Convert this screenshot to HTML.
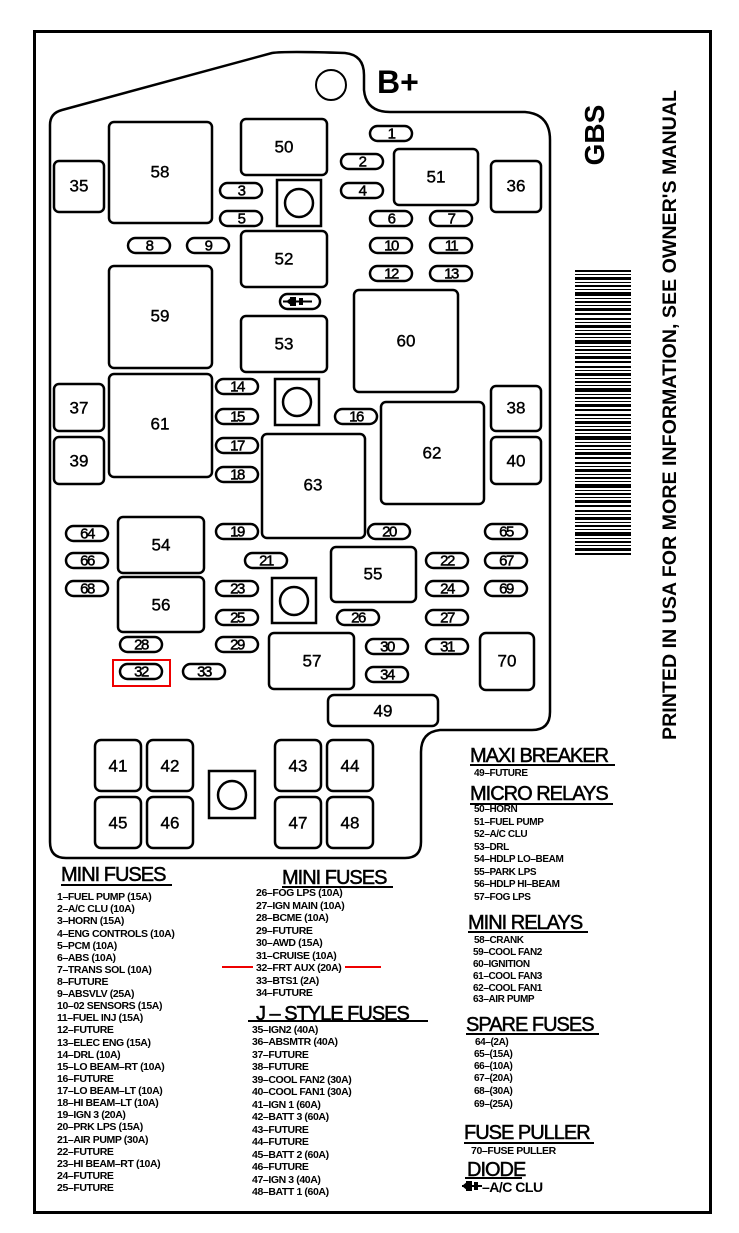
<!DOCTYPE html>
<html><head><meta charset="utf-8"><style>
html,body{margin:0;padding:0;background:#fff;}
svg{display:block;}
text{font-family:"Liberation Sans",sans-serif;fill:#000;}
.r{font-size:17px;text-anchor:middle;dominant-baseline:central;stroke:#000;stroke-width:0.4px;}
.f{font-size:15px;text-anchor:middle;dominant-baseline:central;letter-spacing:-1.5px;stroke:#000;stroke-width:0.5px;}
.l{font-size:10.5px;font-weight:bold;letter-spacing:-0.4px;}
.s{font-size:10px;font-weight:bold;letter-spacing:-0.4px;}
.h{font-size:20px;letter-spacing:-1px;stroke:#000;stroke-width:0.5px;}
</style></head><body>
<svg width="739" height="1233" viewBox="0 0 739 1233" xmlns="http://www.w3.org/2000/svg">
<defs>
<pattern id="bc" x="575" y="270" width="56" height="48" patternUnits="userSpaceOnUse">
<rect x="0" y="0" width="56" height="2"/><rect x="0" y="4" width="56" height="1"/><rect x="0" y="7" width="56" height="3"/><rect x="0" y="12" width="56" height="1"/><rect x="0" y="15" width="56" height="2"/><rect x="0" y="19" width="56" height="1"/><rect x="0" y="22" width="56" height="4"/><rect x="0" y="28" width="56" height="1"/><rect x="0" y="31" width="56" height="2"/><rect x="0" y="35" width="56" height="1"/><rect x="0" y="38" width="56" height="3"/><rect x="0" y="43" width="56" height="2"/>
</pattern>
</defs>
<rect x="34.5" y="31.5" width="676" height="1181" fill="none" stroke="#000" stroke-width="3"/>
<path d="M50,125 Q50,113 62,110 L272,53 Q285,51 345,53 Q364,55 364,75 L364,90 Q366,112 390,112 L525,112 Q550,114 550,140 L550,712 Q550,730 532,730 L440,730 Q421,732 421,752 L421,842 Q421,858 405,858 L66,858 Q50,858 50,842 Z" fill="none" stroke="#000" stroke-width="2.5"/>
<circle cx="331" cy="85" r="15" fill="none" stroke="#000" stroke-width="2"/>
<text x="377" y="93" style="font-size:32px;font-weight:bold;">B+</text>
<text transform="translate(604,135) rotate(-90)" style="font-size:28px;text-anchor:middle;font-weight:bold;">GBS</text>
<text transform="translate(676,740) rotate(-90)" textLength="650" lengthAdjust="spacingAndGlyphs" style="font-size:19px;font-weight:bold;">PRINTED IN USA FOR MORE INFORMATION, SEE OWNER'S MANUAL</text>
<rect x="575" y="270" width="56" height="288" fill="url(#bc)"/>

<g fill="none" stroke="#000" stroke-width="2.5">
<rect x="109" y="122" width="103" height="101" rx="5"/>
<rect x="241" y="119" width="86" height="56" rx="5"/>
<rect x="394" y="149" width="84" height="56" rx="5"/>
<rect x="241" y="231" width="86" height="56" rx="5"/>
<rect x="109" y="266" width="103" height="102" rx="5"/>
<rect x="241" y="316" width="86" height="56" rx="5"/>
<rect x="354" y="290" width="104" height="102" rx="5"/>
<rect x="109" y="374" width="103" height="103" rx="5"/>
<rect x="381" y="402" width="103" height="102" rx="5"/>
<rect x="262" y="434" width="103" height="104" rx="5"/>
<rect x="118" y="517" width="86" height="56" rx="5"/>
<rect x="331" y="547" width="85" height="55" rx="5"/>
<rect x="118" y="577" width="86" height="55" rx="5"/>
<rect x="269" y="633" width="85" height="56" rx="5"/>
<rect x="328" y="695" width="110" height="31" rx="6"/>
<rect x="480" y="633" width="54" height="57" rx="6"/>
<rect x="54" y="161" width="50" height="51" rx="5"/>
<rect x="491" y="161" width="50" height="51" rx="5"/>
<rect x="54" y="384" width="50" height="47" rx="5"/>
<rect x="491" y="386" width="50" height="45" rx="5"/>
<rect x="54" y="437" width="50" height="47" rx="5"/>
<rect x="491" y="437" width="50" height="47" rx="5"/>
<rect x="95" y="740" width="46" height="51" rx="6"/>
<rect x="147" y="740" width="46" height="51" rx="6"/>
<rect x="275" y="740" width="46" height="51" rx="6"/>
<rect x="327" y="740" width="46" height="51" rx="6"/>
<rect x="95" y="797" width="46" height="51" rx="6"/>
<rect x="147" y="797" width="46" height="51" rx="6"/>
<rect x="275" y="797" width="46" height="51" rx="6"/>
<rect x="327" y="797" width="46" height="51" rx="6"/>
<rect x="277" y="180" width="44" height="46"/><circle cx="299" cy="203" r="14"/>
<rect x="275" y="379" width="44" height="46"/><circle cx="297" cy="402" r="14"/>
<rect x="272" y="578" width="44" height="45"/><circle cx="294" cy="601" r="14"/>
<rect x="209" y="771" width="46" height="47"/><circle cx="232" cy="795" r="14"/>
</g>
<g class="r">
<text x="160" y="172">58</text><text x="284" y="147">50</text><text x="436" y="177">51</text><text x="284" y="259">52</text>
<text x="160" y="316">59</text><text x="284" y="344">53</text><text x="406" y="341">60</text><text x="160" y="424">61</text>
<text x="432" y="453">62</text><text x="313" y="485">63</text><text x="161" y="545">54</text><text x="373" y="574">55</text>
<text x="161" y="605">56</text><text x="312" y="661">57</text><text x="383" y="711">49</text><text x="507" y="661">70</text>
<text x="79" y="186">35</text><text x="516" y="186">36</text><text x="79" y="408">37</text><text x="516" y="408">38</text>
<text x="79" y="461">39</text><text x="516" y="461">40</text>
<text x="118" y="766">41</text><text x="170" y="766">42</text><text x="298" y="766">43</text><text x="350" y="766">44</text>
<text x="118" y="823">45</text><text x="170" y="823">46</text><text x="298" y="823">47</text><text x="350" y="823">48</text>
</g>
<g fill="none" stroke="#000" stroke-width="2.5">
<rect x="370" y="126" width="42" height="15" rx="7.5"/><rect x="341" y="154" width="42" height="15" rx="7.5"/>
<rect x="341" y="183" width="42" height="15" rx="7.5"/><rect x="220" y="183" width="42" height="15" rx="7.5"/>
<rect x="220" y="211" width="42" height="15" rx="7.5"/><rect x="370" y="211" width="42" height="15" rx="7.5"/>
<rect x="430" y="211" width="42" height="15" rx="7.5"/><rect x="128" y="238" width="42" height="15" rx="7.5"/>
<rect x="187" y="238" width="42" height="15" rx="7.5"/><rect x="370" y="238" width="42" height="15" rx="7.5"/>
<rect x="430" y="238" width="42" height="15" rx="7.5"/><rect x="370" y="266" width="42" height="15" rx="7.5"/>
<rect x="430" y="266" width="42" height="15" rx="7.5"/><rect x="280" y="294" width="40" height="15" rx="7.5"/>
<rect x="216" y="379" width="42" height="15" rx="7.5"/><rect x="216" y="409" width="42" height="15" rx="7.5"/>
<rect x="335" y="409" width="42" height="15" rx="7.5"/><rect x="216" y="438" width="42" height="15" rx="7.5"/>
<rect x="216" y="467" width="42" height="15" rx="7.5"/><rect x="216" y="524" width="42" height="15" rx="7.5"/>
<rect x="368" y="524" width="42" height="15" rx="7.5"/><rect x="245" y="553" width="42" height="15" rx="7.5"/>
<rect x="426" y="553" width="42" height="15" rx="7.5"/><rect x="216" y="581" width="42" height="15" rx="7.5"/>
<rect x="426" y="581" width="42" height="15" rx="7.5"/><rect x="216" y="610" width="42" height="15" rx="7.5"/>
<rect x="337" y="610" width="42" height="15" rx="7.5"/><rect x="426" y="610" width="42" height="15" rx="7.5"/>
<rect x="120" y="637" width="42" height="15" rx="7.5"/><rect x="216" y="637" width="42" height="15" rx="7.5"/>
<rect x="366" y="639" width="42" height="15" rx="7.5"/><rect x="426" y="639" width="42" height="15" rx="7.5"/>
<rect x="120" y="664" width="42" height="15" rx="7.5"/><rect x="183" y="664" width="42" height="15" rx="7.5"/>
<rect x="366" y="667" width="42" height="15" rx="7.5"/>
<rect x="66" y="526" width="42" height="15" rx="7.5"/><rect x="485" y="524" width="42" height="15" rx="7.5"/>
<rect x="66" y="553" width="42" height="15" rx="7.5"/><rect x="485" y="553" width="42" height="15" rx="7.5"/>
<rect x="66" y="581" width="42" height="15" rx="7.5"/><rect x="485" y="581" width="42" height="15" rx="7.5"/>
</g>
<rect x="113" y="660" width="57" height="26" fill="none" stroke="#e00" stroke-width="2"/>
<g class="f">
<text x="391" y="134">1</text><text x="362" y="162">2</text><text x="362" y="191">4</text><text x="241" y="191">3</text>
<text x="241" y="219">5</text><text x="391" y="219">6</text><text x="451" y="219">7</text><text x="149" y="246">8</text>
<text x="208" y="246">9</text><text x="391" y="246">10</text><text x="451" y="246">11</text><text x="391" y="274">12</text>
<text x="451" y="274">13</text>
<text x="237" y="387">14</text><text x="237" y="417">15</text><text x="356" y="417">16</text><text x="237" y="446">17</text>
<text x="237" y="475">18</text><text x="237" y="532">19</text><text x="389" y="532">20</text><text x="266" y="561">21</text>
<text x="447" y="561">22</text><text x="237" y="589">23</text><text x="447" y="589">24</text><text x="237" y="618">25</text>
<text x="358" y="618">26</text><text x="447" y="618">27</text><text x="141" y="645">28</text><text x="237" y="645">29</text>
<text x="387" y="647">30</text><text x="447" y="647">31</text><text x="141" y="672">32</text><text x="204" y="672">33</text>
<text x="387" y="675">34</text>
<text x="87" y="534">64</text><text x="506" y="532">65</text><text x="87" y="561">66</text><text x="506" y="561">67</text>
<text x="87" y="589">68</text><text x="506" y="589">69</text>
</g>
<g><rect x="290" y="297" width="6" height="9"/><path d="M286,301.5 L292,297 L292,306Z"/><line x1="283" y1="301.5" x2="312" y2="301.5" stroke="#000" stroke-width="2"/><rect x="299" y="298" width="4" height="7"/></g>

<!-- legends -->
<text x="61" y="881" class="h">MINI FUSES</text><rect x="61" y="884" width="111" height="2"/>
<g class="l">
<text x="57" y="900">1–FUEL PUMP (15A)</text><text x="57" y="912">2–A/C CLU (10A)</text><text x="57" y="924">3–HORN (15A)</text>
<text x="57" y="937">4–ENG CONTROLS (10A)</text><text x="57" y="949">5–PCM (10A)</text><text x="57" y="961">6–ABS (10A)</text>
<text x="57" y="973">7–TRANS SOL (10A)</text><text x="57" y="985">8–FUTURE</text><text x="57" y="997">9–ABSVLV (25A)</text>
<text x="57" y="1009">10–02 SENSORS (15A)</text><text x="57" y="1021">11–FUEL INJ (15A)</text><text x="57" y="1033">12–FUTURE</text>
<text x="57" y="1046">13–ELEC ENG (15A)</text><text x="57" y="1058">14–DRL (10A)</text><text x="57" y="1070">15–LO BEAM–RT (10A)</text>
<text x="57" y="1082">16–FUTURE</text><text x="57" y="1094">17–LO BEAM–LT (10A)</text><text x="57" y="1106">18–HI BEAM–LT (10A)</text>
<text x="57" y="1118">19–IGN 3 (20A)</text><text x="57" y="1130">20–PRK LPS (15A)</text><text x="57" y="1143">21–AIR PUMP (30A)</text>
<text x="57" y="1155">22–FUTURE</text><text x="57" y="1167">23–HI BEAM–RT (10A)</text><text x="57" y="1179">24–FUTURE</text>
<text x="57" y="1191">25–FUTURE</text>
</g>
<text x="282" y="884" class="h">MINI FUSES</text><rect x="282" y="886" width="111" height="2"/>
<g class="l">
<text x="256" y="896">26–FOG LPS (10A)</text><text x="256" y="909">27–IGN MAIN (10A)</text><text x="256" y="921">28–BCME (10A)</text>
<text x="256" y="934">29–FUTURE</text><text x="256" y="946">30–AWD (15A)</text><text x="256" y="959">31–CRUISE (10A)</text>
<text x="256" y="971">32–FRT AUX (20A)</text><text x="256" y="984">33–BTS1 (2A)</text><text x="256" y="996">34–FUTURE</text>
</g>
<rect x="222" y="966" width="31" height="2" fill="#e00"/><rect x="345" y="966" width="36" height="2" fill="#e00"/>
<text x="256" y="1020" class="h">J – STYLE FUSES</text><rect x="248" y="1020" width="180" height="2"/>
<g class="l">
<text x="252" y="1033">35–IGN2 (40A)</text><text x="252" y="1045">36–ABSMTR (40A)</text><text x="252" y="1058">37–FUTURE</text>
<text x="252" y="1070">38–FUTURE</text><text x="252" y="1083">39–COOL FAN2 (30A)</text><text x="252" y="1095">40–COOL FAN1 (30A)</text>
<text x="252" y="1108">41–IGN 1 (60A)</text><text x="252" y="1120">42–BATT 3 (60A)</text><text x="252" y="1133">43–FUTURE</text>
<text x="252" y="1145">44–FUTURE</text><text x="252" y="1158">45–BATT 2 (60A)</text><text x="252" y="1170">46–FUTURE</text>
<text x="252" y="1183">47–IGN 3 (40A)</text><text x="252" y="1195">48–BATT 1 (60A)</text>
</g>
<text x="470" y="762" class="h">MAXI BREAKER</text><rect x="470" y="764" width="145" height="2"/>
<text x="474" y="776" class="s">49–FUTURE</text>
<text x="470" y="800" class="h">MICRO RELAYS</text><rect x="470" y="803" width="143" height="2"/>
<g class="s">
<text x="474" y="812">50–HORN</text><text x="474" y="825">51–FUEL PUMP</text><text x="474" y="837">52–A/C CLU</text>
<text x="474" y="850">53–DRL</text><text x="474" y="862">54–HDLP LO–BEAM</text><text x="474" y="875">55–PARK LPS</text>
<text x="474" y="887">56–HDLP HI–BEAM</text><text x="474" y="900">57–FOG LPS</text>
</g>
<text x="468" y="929" class="h">MINI RELAYS</text><rect x="468" y="931" width="120" height="2"/>
<g class="s">
<text x="474" y="943">58–CRANK</text><text x="473" y="955">59–COOL FAN2</text><text x="473" y="967">60–IGNITION</text>
<text x="473" y="979">61–COOL FAN3</text><text x="473" y="991">62–COOL FAN1</text><text x="473" y="1002">63–AIR PUMP</text>
</g>
<text x="466" y="1031" class="h">SPARE FUSES</text><rect x="466" y="1033" width="133" height="2"/>
<g class="s">
<text x="475" y="1045">64–(2A)</text><text x="474" y="1057">65–(15A)</text><text x="474" y="1069">66–(10A)</text>
<text x="474" y="1081">67–(20A)</text><text x="474" y="1094">68–(30A)</text><text x="474" y="1107">69–(25A)</text>
</g>
<text x="464" y="1139" class="h">FUSE PULLER</text><rect x="464" y="1142" width="130" height="2"/>
<text x="471" y="1154" class="l">70–FUSE PULLER</text>
<text x="467" y="1176" class="h">DIODE</text><rect x="465" y="1177" width="57" height="2"/>
<g><rect x="466" y="1181" width="6" height="10"/><path d="M462,1186 L468,1181 L468,1191Z"/><rect x="474" y="1182" width="4" height="8"/><rect x="462" y="1185" width="20" height="2"/></g>
<text x="482" y="1192" style="font-size:14px;font-weight:bold;letter-spacing:-0.5px;">–A/C CLU</text>
</svg>
</body></html>
